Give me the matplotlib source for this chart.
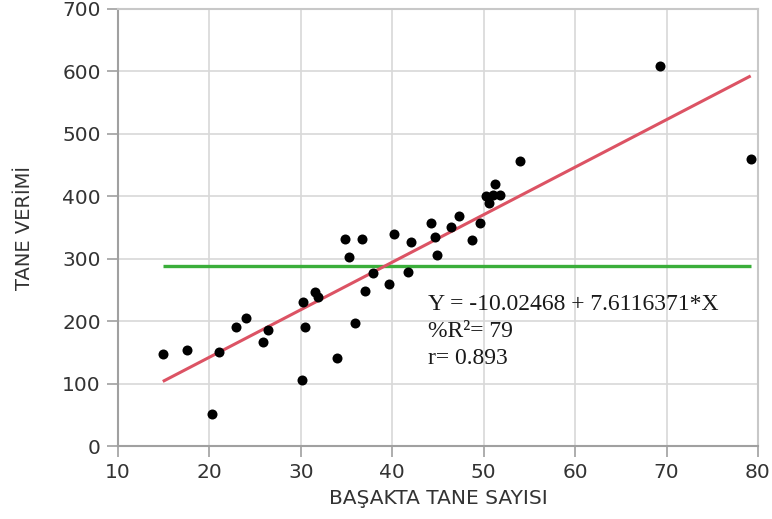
import numpy as np
import matplotlib
matplotlib.use("Agg")
import matplotlib.pyplot as plt

# data
spikelet_grains = [14.9, 17.6, 21.0, 20.3, 22.9, 24.0, 25.9, 26.4, 30.2, 30.4,
                   30.1, 31.5, 31.9, 34.0, 34.8, 35.3, 35.9, 36.7, 37.0, 37.9,
                   39.6, 40.2, 41.7, 42.0, 44.2, 44.7, 44.9, 46.4, 47.3, 48.7,
                   49.6, 50.2, 50.6, 51.2, 51.0, 51.8, 54.0, 69.3, 79.2]
grain_yield = [147, 154, 150, 51, 191, 205, 166, 186, 230, 190,
               106, 247, 239, 141, 331, 303, 197, 332, 248, 277,
               259, 340, 279, 327, 357, 334, 306, 350, 368, 330,
               358, 400, 389, 420, 402, 402, 457, 608, 459]
intercept = -10.02468
slope = 7.6116371
mean_yield = 287.6
x_ticks = [10, 20, 30, 40, 50, 60, 70, 80]
y_ticks = [0, 100, 200, 300, 400, 500, 600, 700]
eq_lines = ["Y = -10.02468 + 7.6116371*X", "%R\u00b2= 79", "r= 0.893"]

W, H = 772, 519
fig = plt.figure(figsize=(W/100, H/100), dpi=100)
ax = fig.add_axes([118/W, 1-446/H, (758-118)/W, (446-9)/H])

x = np.array(spikelet_grains)
y = np.array(grain_yield)
xs = np.array([x.min(), x.max()])

ax.plot(xs, [mean_yield, mean_yield], color='#3aae3a', lw=2.4, zorder=2, solid_capstyle='butt')
ax.plot(xs, intercept + slope*xs, color='#dc5364', lw=2.2, zorder=3, solid_capstyle='butt')
ax.scatter(x, y, s=52, color='black', zorder=4, linewidths=0)

ax.set_xlim(10, 80)
ax.set_ylim(0, 700)
ax.set_xticks(x_ticks)
ax.set_yticks(y_ticks)
ax.grid(True, color='#d8d8d8', lw=1.2)
ax.set_axisbelow(True)
for s in ['top', 'right']:
    ax.spines[s].set_color('#c8c8c8')
    ax.spines[s].set_linewidth(1.5)
for s in ['left', 'bottom']:
    ax.spines[s].set_color('#a0a0a0')
    ax.spines[s].set_linewidth(1.5)
ax.tick_params(direction='out', length=8, width=1.2, color='#a0a0a0',
               labelsize=14.5, labelcolor='#333333', pad=4.5)
for lab in ax.get_xticklabels() + ax.get_yticklabels():
    lab.set_family('DejaVu Sans')

ax.set_xlabel('BAŞAKTA TANE SAYISI', fontsize=14.5, color='#333333', family='DejaVu Sans', labelpad=5)
ax.set_ylabel('TANE VERİMİ', fontsize=14, color='#333333', family='DejaVu Sans', labelpad=20)

for i, t in enumerate(eq_lines):
    fig.text(428/W, 1 - (304 + 27.5*i)/H, t, fontsize=17, family='Liberation Serif',
             color='#1a1a1a', va='center', ha='left')

fig.savefig('out.png', dpi=100)
